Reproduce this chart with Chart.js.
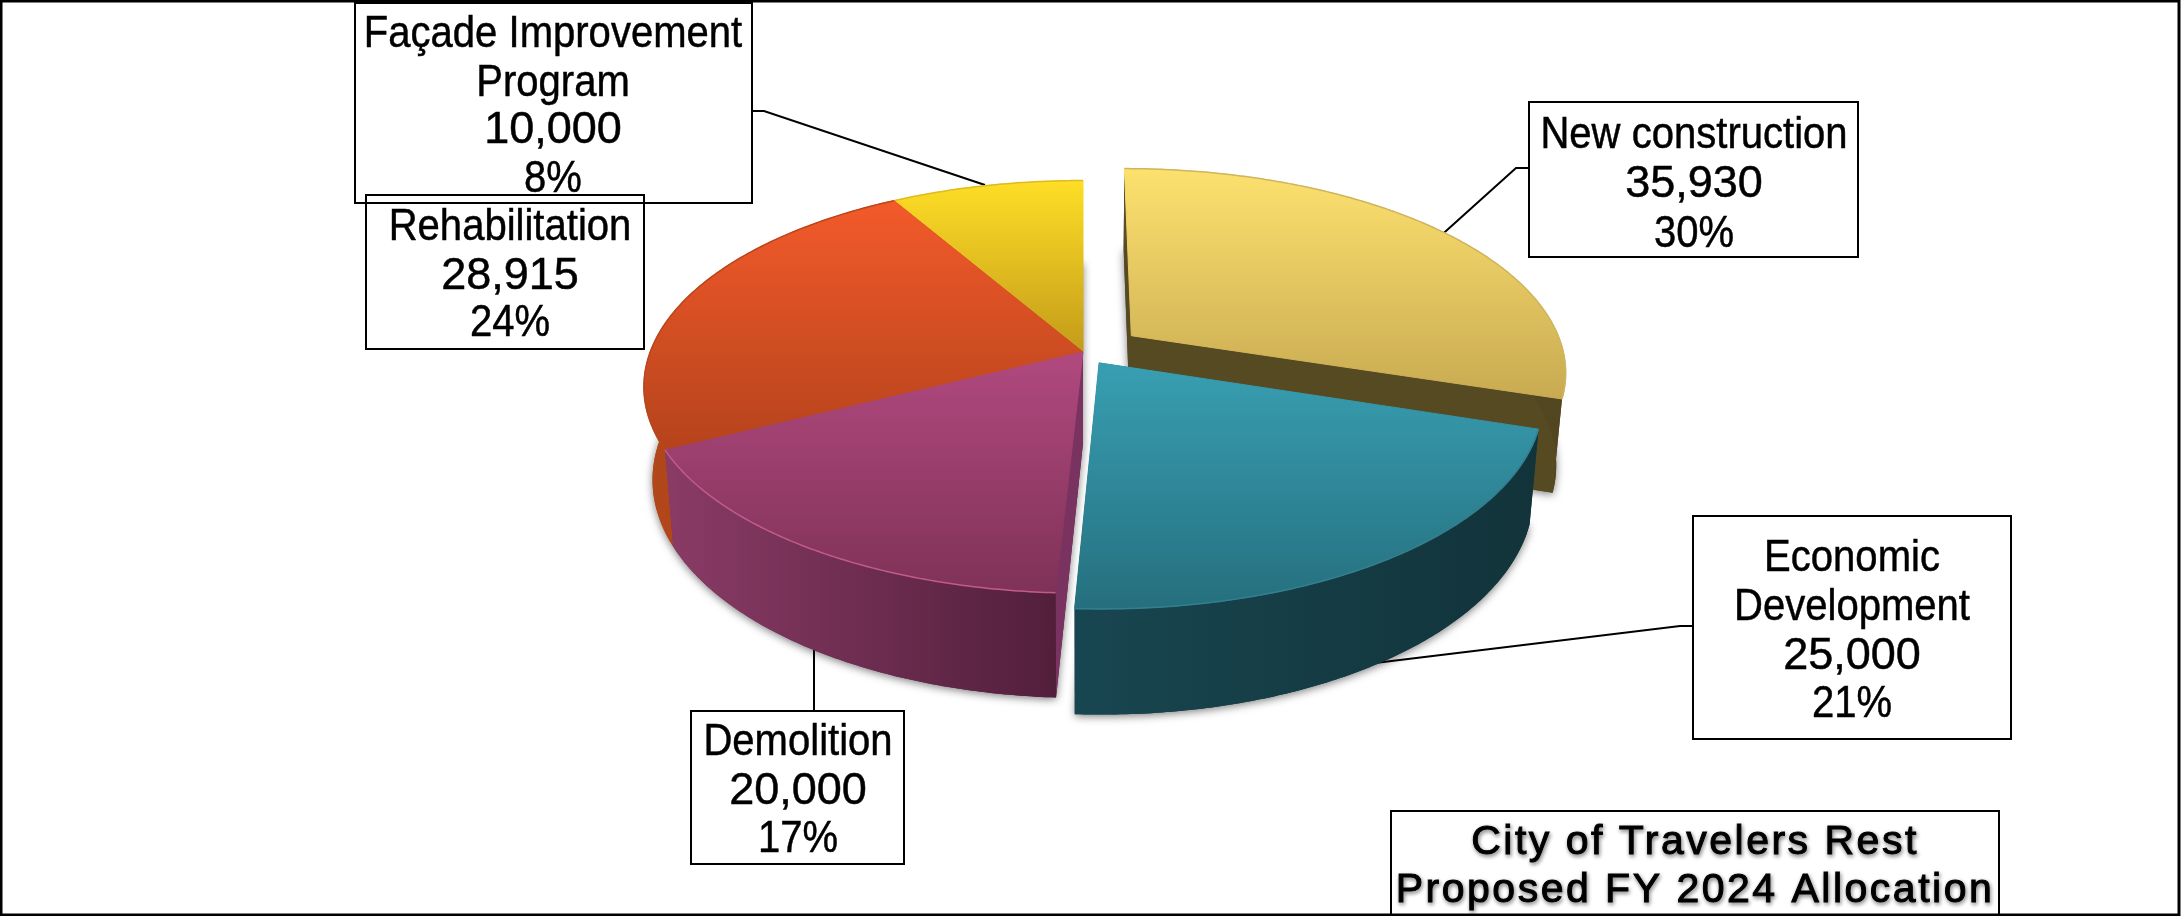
<!DOCTYPE html>
<html>
<head>
<meta charset="utf-8">
<title>City of Travelers Rest</title>
<script src="https://cdn.jsdelivr.net/npm/chart.js@4"></script>
<style>
  html, body { margin: 0; padding: 0; background: #fff; overflow: hidden; }
  canvas { display: block; }
</style>
</head>
<body>
<canvas id="allocationChart" width="2181" height="916"></canvas>
<script>
// Chart values
const categories = ['New construction', 'Economic Development', 'Demolition', 'Rehabilitation', 'Façade Improvement Program'];
const allocations = [35930, 25000, 20000, 28915, 10000];
const amountLabels = ['35,930', '25,000', '20,000', '28,915', '10,000'];
const percentLabels = ['30%', '21%', '17%', '24%', '8%'];
const titleLines = ['City of Travelers Rest', 'Proposed FY 2024 Allocation'];

// Slice styling
const explode = [0.14, 0.065, 0, 0, 0];
const topColors = [['#fde16e', '#c8aa52'], ['#389fb2', '#256f7e'], ['#b1497f', '#7f3257'], ['#f35a2a', '#b5431c'], ['#fede26', '#c49b1a']];
const rimColors = ['#d0b560', '#347f8e', '#c2598f', '#b9471d', '#e0bb20'];
const wallColors = [['#5a4d24', '#524621'], ['#184650', '#12333a'], ['#8a3b66', '#4e1d38'], ['#b2471a', '#9c3d14'], ['#a8861a', '#8a6e14']];
const sideColors = ['#564a22', '#14353d', '#7a3260', '#a8431a', '#98791a'];
const paintOrder = [0, 4, 3, 2, 1];

// Callout boxes, same order as categories
const callouts = [
  { box: [1529, 102, 329, 155], cx: 1694, lines: [136, 185, 235], text: ['New construction'], leader: [[1436, 240], [1516, 168], [1529, 168]] },
  { box: [1693, 516, 318, 223], cx: 1852, lines: [559, 608, 657, 705], text: ['Economic', 'Development'], leader: [[1375, 663], [1680, 626], [1693, 626]] },
  { box: [691, 711, 213, 153], cx: 798, lines: [743, 792, 840], text: ['Demolition'], leader: [[814, 645], [814, 711]] },
  { box: [366, 195, 278, 154], cx: 510, lines: [228, 277, 324], text: ['Rehabilitation'], leader: null },
  { box: [355, 3, 397, 200], cx: 553, lines: [35, 84, 131, 180], text: ['Façade Improvement', 'Program'], leader: [[985, 185], [764, 111], [752, 111]] }
];

// Projection of the pie plane
const PERSP = 0.169, RX = 434 / 352, RY = 201 / 352, DEPTH = 91, SHRINK = 0.02;
const NARROW = 0.89;

function project(el, u, v, z) {
  const w = 1 - PERSP * v;
  const d = 1 + SHRINK * z;
  return {
    x: el.x + el.outerRadius * RX * u / (w * d),
    y: el.y + el.outerRadius * RY * v / (w * d) + DEPTH * z / w
  };
}

function sliceRim(el, i, z, from, to) {
  const pts = [];
  const ox = explode[i] * Math.cos((el.startAngle + el.endAngle) / 2);
  const oy = explode[i] * Math.sin((el.startAngle + el.endAngle) / 2);
  const steps = Math.max(2, Math.ceil((to - from) / 0.01));
  for (let s = 0; s <= steps; s++) {
    const a = from + (to - from) * s / steps;
    pts.push(project(el, Math.cos(a) + ox, Math.sin(a) + oy, z));
  }
  return pts;
}

function apex(el, i, z) {
  const mid = (el.startAngle + el.endAngle) / 2;
  return project(el, explode[i] * Math.cos(mid), explode[i] * Math.sin(mid), z);
}

function tracePath(ctx, pts, open) {
  ctx.beginPath();
  pts.forEach(function(p, n) {
    if (n === 0) ctx.moveTo(p.x, p.y);
    else ctx.lineTo(p.x, p.y);
  });
  if (!open) ctx.closePath();
}

function drawSlice(ctx, el, i) {
  const top = sliceRim(el, i, 0, el.startAngle, el.endAngle);
  const bottom = sliceRim(el, i, 1, el.startAngle, el.endAngle);
  const a0 = apex(el, i, 0), a1 = apex(el, i, 1);
  const all = top.concat(bottom, [a0, a1]);
  const xs = all.map(p => p.x), ys = top.concat([a0]).map(p => p.y);

  const wall = ctx.createLinearGradient(Math.min(...xs), 0, Math.max(...xs), 0);
  wall.addColorStop(0, wallColors[i][0]);
  wall.addColorStop(1, wallColors[i][1]);

  // silhouette first, that is what throws the soft shadow
  ctx.save();
  ctx.shadowColor = 'rgba(0,0,0,0.5)';
  ctx.shadowBlur = 9;
  ctx.shadowOffsetY = 2;
  ctx.fillStyle = wall;
  tracePath(ctx, [a1].concat(bottom));
  ctx.fill();
  ctx.restore();

  // radial sides, then the rim wall over them
  ctx.fillStyle = sideColors[i];
  tracePath(ctx, [a0, top[0], bottom[0], a1]);
  ctx.fill();
  tracePath(ctx, [a0, top[top.length - 1], bottom[bottom.length - 1], a1]);
  ctx.fill();
  ctx.fillStyle = wall;
  tracePath(ctx, top.concat(bottom.slice().reverse()));
  ctx.fill();

  const face = ctx.createLinearGradient(0, Math.min(...ys), 0, Math.max(...ys));
  face.addColorStop(0, topColors[i][0]);
  face.addColorStop(1, topColors[i][1]);
  ctx.fillStyle = face;
  ctx.strokeStyle = face;
  ctx.lineWidth = 1;
  tracePath(ctx, [a0].concat(top));
  ctx.fill();
  ctx.stroke();
  ctx.strokeStyle = rimColors[i];
  ctx.lineWidth = 1.5;
  tracePath(ctx, top, true);
  ctx.stroke();
}

// squeeze = horizontal factor, Liberation Sans is wider than the original face
function inkText(ctx, t, x, y, weight, squeeze) {
  const maxW = ctx.measureText(t).width * squeeze;
  ctx.fillText(t, x, y, maxW);
  ctx.lineWidth = weight;
  ctx.strokeText(t, x, y, maxW);
}

function drawCallout(ctx, c, i) {
  ctx.strokeStyle = '#000';
  ctx.lineWidth = 2;
  ctx.strokeRect(c.box[0], c.box[1], c.box[2], c.box[3]);
  if (c.leader) {
    ctx.beginPath();
    c.leader.forEach(function(p, n) {
      if (n === 0) ctx.moveTo(p[0], p[1]);
      else ctx.lineTo(p[0], p[1]);
    });
    ctx.stroke();
  }
  ctx.fillStyle = '#000';
  ctx.textAlign = 'center';
  ctx.textBaseline = 'middle';
  ctx.font = '45px "Liberation Sans"';
  c.text.forEach(function(t, n) {
    inkText(ctx, t, c.cx, c.lines[n], 0.5, NARROW);
  });
  const n = c.text.length;
  inkText(ctx, amountLabels[i], c.cx, c.lines[n], 0.5, 1);
  inkText(ctx, percentLabels[i], c.cx, c.lines[n + 1], 0.5, NARROW);
}

const tiltedPie = {
  id: 'tiltedPie',
  beforeDatasetsDraw(chart) {
    const ctx = chart.ctx;
    const arcs = chart.getDatasetMeta(0).data;
    ctx.save();
    paintOrder.forEach(function(i) {
      drawSlice(ctx, arcs[i], i);
    });
    ctx.restore();
    return false;
  },
  // labels go down first so leaders that run into the pie end behind it
  beforeDraw(chart) {
    const ctx = chart.ctx;
    ctx.save();
    callouts.forEach(function(c, i) {
      drawCallout(ctx, c, i);
    });
    // title box
    ctx.strokeStyle = '#000';
    ctx.lineWidth = 2;
    ctx.strokeRect(1391, 811, 608, 104);
    ctx.fillStyle = '#000';
    ctx.textAlign = 'center';
    ctx.textBaseline = 'middle';
    ctx.font = '41px "Liberation Sans"';
    ctx.letterSpacing = '2.5px';
    ctx.shadowColor = 'rgba(0,0,0,0.45)';
    ctx.shadowBlur = 4;
    ctx.shadowOffsetX = 1;
    ctx.shadowOffsetY = 2;
    inkText(ctx, titleLines[0], 1695, 843, 1, 1);
    inkText(ctx, titleLines[1], 1695, 891, 1, 1);
    ctx.restore();
    // outer frame
    ctx.strokeStyle = '#000';
    ctx.lineWidth = 3;
    ctx.strokeRect(1, 1, 2178, 914);
  }
};

new Chart(document.getElementById('allocationChart').getContext('2d'), {
  type: 'pie',
  data: {
    labels: categories,
    datasets: [{ data: allocations }]
  },
  options: {
    responsive: false,
    animation: false,
    layout: { padding: { left: 0, right: 15, top: 0, bottom: 212 } },
    plugins: { legend: { display: false }, tooltip: { enabled: false } }
  },
  plugins: [tiltedPie]
});
</script>
</body>
</html>
